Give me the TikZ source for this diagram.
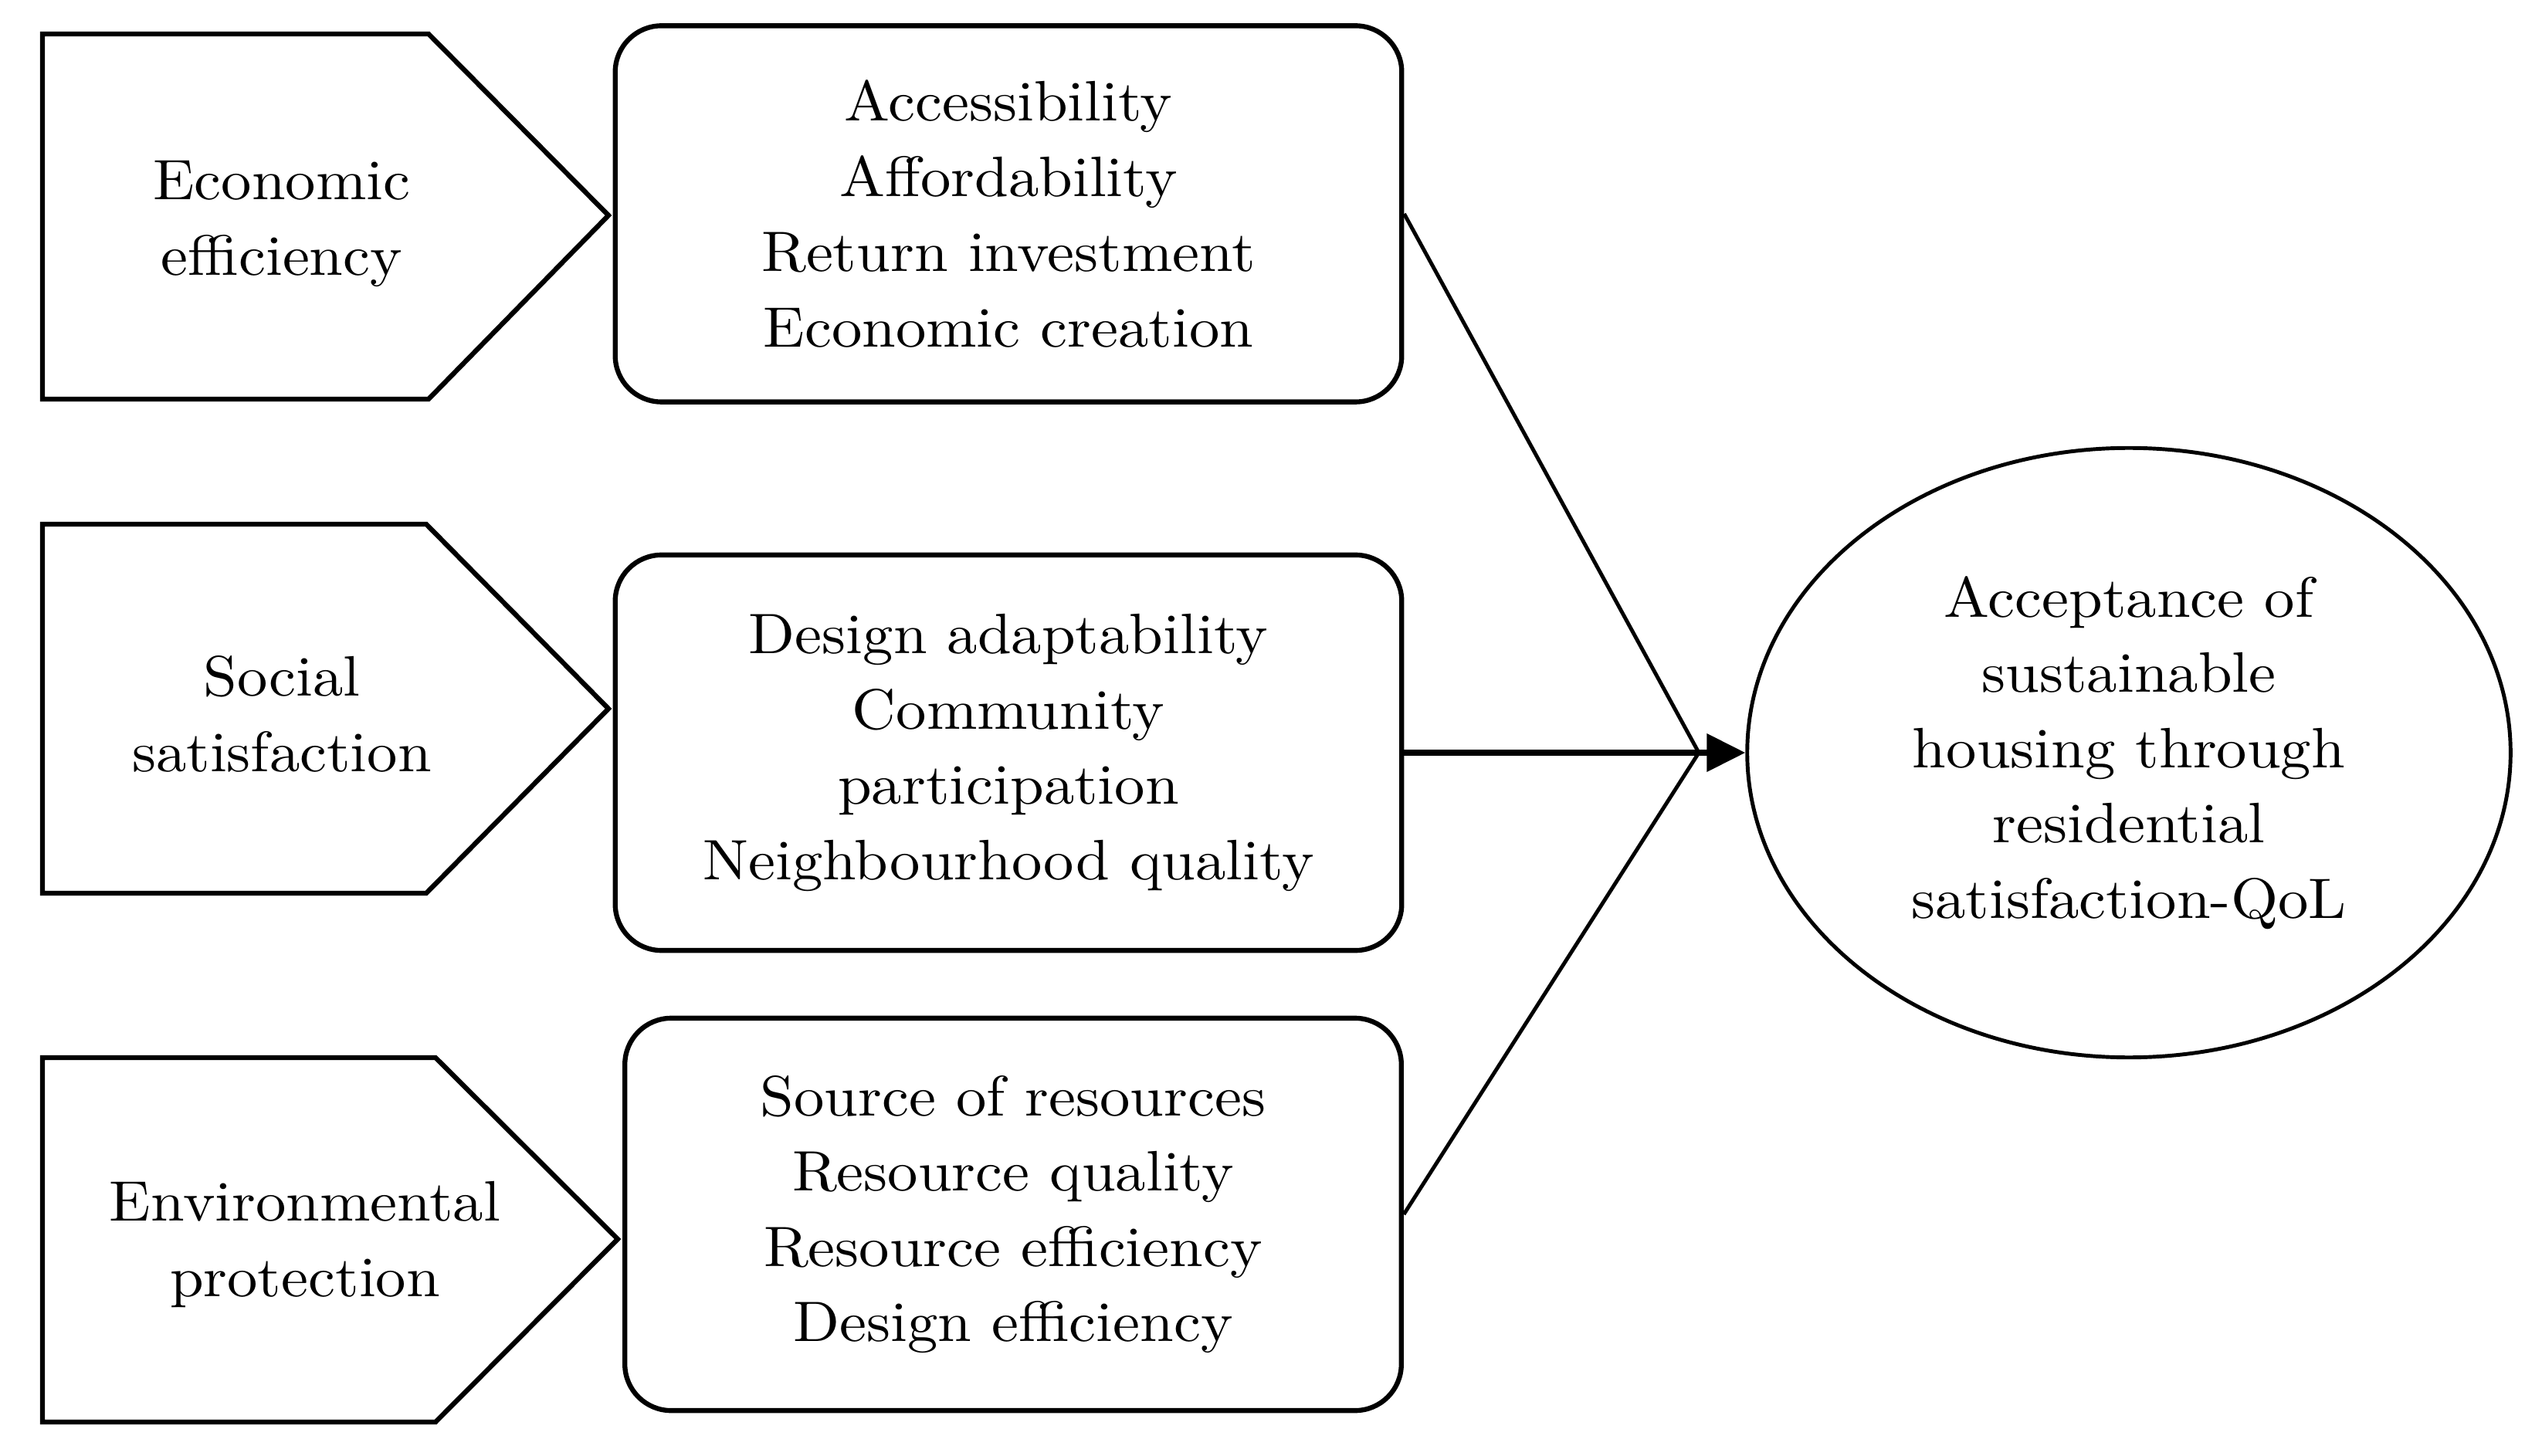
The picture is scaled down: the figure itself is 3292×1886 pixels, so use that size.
\documentclass[tikz,border=0pt]{standalone}
\usepackage{fontspec}
\setmainfont{lmroman10-regular}[Extension=.otf, FakeStretch=1.065]
\usetikzlibrary{shapes.geometric,arrows.meta}
\newcommand{\diafont}{\fontsize{21}{27.7}\selectfont}
\tikzset{pent/.style={draw=black, line width=1.8pt, line join=miter},
  dim/.style={align=center, inner sep=0pt, font=\diafont},
  crit/.style={draw=black, line width=1.8pt, rounded corners=0.6cm, align=center, inner sep=0pt, font=\diafont},
  goal/.style={ellipse, draw=black, line width=1.4pt, align=center, inner sep=0pt, font=\diafont}}

\begin{document}
\begin{tikzpicture}[x=0.01cm, y=-0.01cm]
\useasboundingbox (0,0) rectangle (3292,1886);
\coordinate (hub) at (2200,975);

\draw[pent] (55,44) -- (555,44) -- (788,279) -- (555,517) -- (55,517) -- cycle;
\draw[pent] (55,679) -- (552,679) -- (788,918) -- (552,1157) -- (55,1157) -- cycle;
\draw[pent] (55,1370) -- (564,1370) -- (800,1605) -- (564,1842) -- (55,1842) -- cycle;
\node[dim] (eco) at (365,290) {Economic\\efficiency};
\node[dim] (soc) at (365,925) {Social\\satisfaction};
\node[dim] (env) at (395,1612) {Environmental\\protection};

\node[crit, minimum width=10.18cm, minimum height=4.87cm] (acc) at (1306,277) {Accessibility\\Affordability\\Return investment\\Economic creation};
\node[crit, minimum width=10.18cm, minimum height=5.12cm] (des) at (1306,975) {Design adaptability\\Community\\participation\\Neighbourhood quality};
\node[crit, minimum width=10.05cm, minimum height=5.08cm] (src) at (1312,1573) {Source of resources\\Resource quality\\Resource efficiency\\Design efficiency};

\node[goal, minimum width=9.88cm, minimum height=7.89cm] (acpt) at (2757,975) {Acceptance of\\sustainable\\housing through\\residential\\satisfaction-QoL};

\draw[line width=1.4pt] (acc.east) -- (hub);
\draw[line width=1.4pt] (src.east) -- (hub);
\draw[line width=2.2pt, -{Triangle[length=0.5cm, width=0.48cm]}] (des.east) -- (acpt.west);

\end{tikzpicture}
\end{document}
